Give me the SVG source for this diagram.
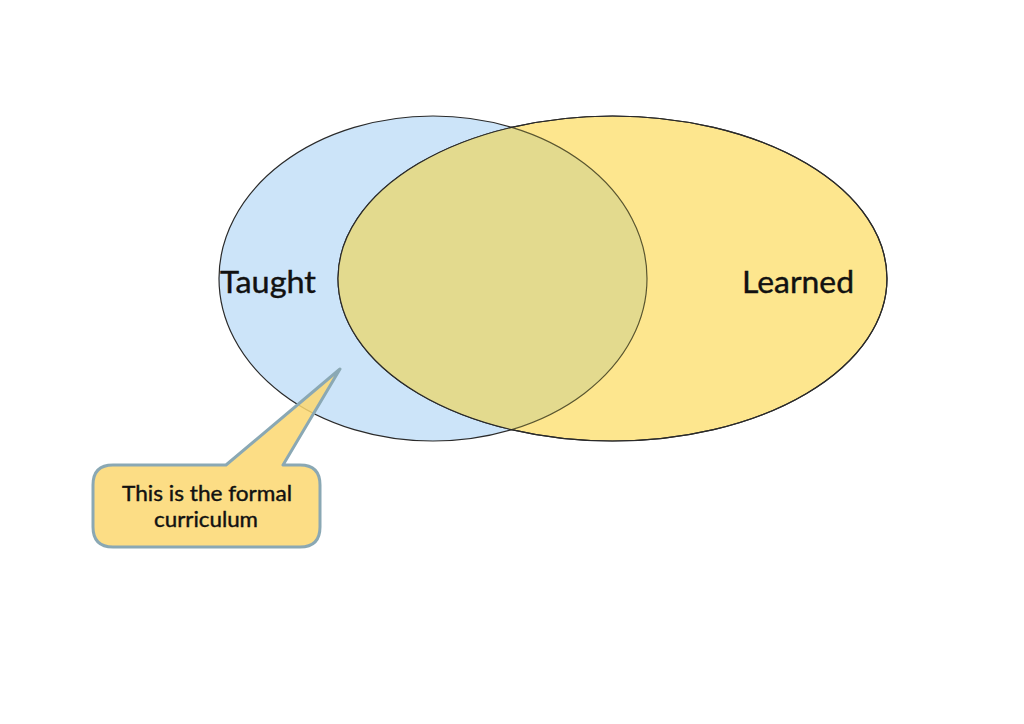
<svg xmlns="http://www.w3.org/2000/svg" width="1024" height="724" viewBox="0 0 1024 724">
<style>
.lbl{font-family:Lato,"Liberation Sans",sans-serif;fill:#111;stroke:#111;stroke-width:0.4;}
.big{font-size:31px;}
.small{font-size:21px;}
</style>
<defs>
<clipPath id="clipY"><ellipse cx="612.5" cy="278.5" rx="274.5" ry="162.5"/></clipPath>
</defs>
<rect width="1024" height="724" fill="#fff"/>
<g id="taught">
<ellipse cx="433" cy="278.5" rx="214" ry="162.5" fill="#cce4f9" stroke="#2a2a2a" stroke-width="1.2"/>
</g>
<g id="learned">
<ellipse cx="612.5" cy="278.5" rx="274.5" ry="162.5" fill="#fde68e" stroke="#2a2a2a" stroke-width="1.2"/>
</g>
<g id="overlap" clip-path="url(#clipY)">
<ellipse cx="433" cy="278.5" rx="214" ry="162.5" fill="#e3da8e" stroke="#5a5630" stroke-width="1.2"/>
</g>
<ellipse cx="612.5" cy="278.5" rx="274.5" ry="162.5" fill="none" stroke="#2a2a2a" stroke-width="1.2"/>
<text class="lbl big" x="220" y="293" textLength="96" lengthAdjust="spacingAndGlyphs">Taught</text>
<text class="lbl big" x="742" y="293" textLength="112" lengthAdjust="spacingAndGlyphs">Learned</text>
<g id="callout">
<path d="M113,465 L226,465 L340,369 L283,465 L300,465 Q320,465 320,485 L320,527 Q320,547 300,547 L113,547 Q93,547 93,527 L93,485 Q93,465 113,465 Z" fill="#fcd770" fill-opacity="0.85" stroke="#8aa8b4" stroke-width="3" stroke-linejoin="round"/>
<text class="lbl small" x="122" y="501" textLength="170" lengthAdjust="spacingAndGlyphs">This is the formal</text>
<text class="lbl small" x="154" y="527" textLength="104" lengthAdjust="spacingAndGlyphs">curriculum</text>
</g>
</svg>
